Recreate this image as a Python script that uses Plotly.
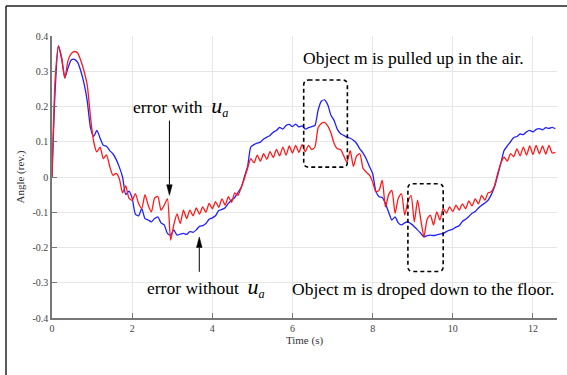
import numpy as np
import plotly.graph_objects as go

# time base (s), sampled every 0.08 s
time_s = np.round(np.arange(0, 158) * 0.08, 2)

# error without u_a (blue)
err_without = [
    0.000, 0.250, 0.372, 0.335, 0.282, 0.310, 0.332, 0.334, 0.325, 0.300,
    0.265, 0.215, 0.140, 0.115, 0.132, 0.110, 0.090, 0.087, 0.075, 0.066,
    0.050, 0.028, 0.000, -0.050, -0.040, -0.060, -0.105, -0.110, -0.090, -0.118,
    -0.122, -0.127, -0.118, -0.113, -0.130, -0.136, -0.160, -0.165, -0.150, -0.165,
    -0.162, -0.160, -0.163, -0.155, -0.157, -0.150, -0.140, -0.138, -0.132, -0.120,
    -0.116, -0.110, -0.095, -0.092, -0.087, -0.075, -0.066, -0.058, -0.044, -0.030,
    0.000, 0.030, 0.085, 0.092, 0.096, 0.099, 0.108, 0.113, 0.118, 0.127,
    0.132, 0.141, 0.136, 0.146, 0.149, 0.143, 0.150, 0.142, 0.145, 0.136,
    0.140, 0.143, 0.146, 0.190, 0.215, 0.219, 0.205, 0.175, 0.160, 0.135,
    0.123, 0.118, 0.113, 0.110, 0.104, 0.095, 0.080, 0.068, 0.052, 0.030,
    0.010, -0.040, -0.056, -0.058, -0.075, -0.100, -0.122, -0.113, -0.130, -0.136,
    -0.130, -0.127, -0.133, -0.141, -0.150, -0.160, -0.170, -0.166, -0.165, -0.166,
    -0.164, -0.162, -0.160, -0.155, -0.151, -0.148, -0.142, -0.138, -0.126, -0.120,
    -0.112, -0.103, -0.098, -0.088, -0.080, -0.074, -0.066, -0.050, -0.028, 0.005,
    0.040, 0.075, 0.088, 0.100, 0.112, 0.115, 0.122, 0.120, 0.128, 0.132,
    0.128, 0.135, 0.137, 0.134, 0.140, 0.138, 0.141, 0.137,
]

# error with u_a (red)
err_with = [
    0.000, 0.280, 0.372, 0.340, 0.280, 0.330, 0.350, 0.356, 0.352, 0.330,
    0.300, 0.260, 0.170, 0.100, 0.071, 0.085, 0.052, 0.063, 0.030, 0.005,
    0.010, -0.005, -0.045, -0.025, -0.060, -0.066, -0.047, -0.075, -0.089, -0.050,
    -0.080, -0.099, -0.060, -0.055, -0.094, -0.080, -0.062, -0.179, -0.135, -0.105,
    -0.132, -0.094, -0.118, -0.094, -0.110, -0.088, -0.105, -0.085, -0.100, -0.075,
    -0.090, -0.070, -0.086, -0.062, -0.080, -0.056, -0.072, -0.045, -0.052, -0.030,
    -0.005, 0.025, 0.052, 0.040, 0.062, 0.045, 0.066, 0.050, 0.072, 0.055,
    0.078, 0.060, 0.085, 0.062, 0.088, 0.068, 0.090, 0.070, 0.092, 0.072,
    0.090, 0.078, 0.085, 0.140, 0.152, 0.155, 0.145, 0.125, 0.095, 0.080,
    0.078, 0.060, 0.042, 0.075, 0.030, 0.060, 0.066, 0.025, 0.014, 0.005,
    -0.014, -0.042, -0.038, -0.009, -0.085, -0.050, -0.038, -0.103, -0.060, -0.047,
    -0.108, -0.070, -0.052, -0.127, -0.066, -0.120, -0.170, -0.120, -0.108, -0.136,
    -0.099, -0.122, -0.089, -0.103, -0.085, -0.098, -0.080, -0.094, -0.076, -0.090,
    -0.068, -0.082, -0.062, -0.076, -0.052, -0.066, -0.045, -0.042, -0.025, 0.010,
    0.040, 0.056, 0.045, 0.066, 0.058, 0.080, 0.060, 0.085, 0.062, 0.088,
    0.064, 0.090, 0.066, 0.088, 0.065, 0.090, 0.068, 0.070,
]

y_ticks = [-0.4, -0.3, -0.2, -0.1, 0, 0.1, 0.2, 0.3, 0.4]
y_tick_labels = ["-0.4", "-0.3", "-0.2", "-0.1", "0", "0.1", "0.2", "0.3", "0.4"]
x_ticks = [0, 2, 4, 6, 8, 10, 12]

# highlight boxes (t0, t1, v0, v1)
box_up = (6.28, 7.37, 0.028, 0.275)
box_down = (8.88, 9.76, -0.268, -0.019)

# arrows (t, v_tail, v_tip)
arrow_with = (2.93, 0.16, -0.052)
arrow_without = (3.675, -0.269, -0.17)

SERIF = "Liberation Serif"

fig = go.Figure()
fig.add_trace(go.Scatter(x=time_s, y=err_without, mode="lines",
                         line=dict(color="#2020ff", width=1.3, shape="spline", smoothing=0.6),
                         showlegend=False))
fig.add_trace(go.Scatter(x=time_s, y=err_with, mode="lines",
                         line=dict(color="#ff1a1a", width=1.3, shape="spline", smoothing=0.6),
                         showlegend=False))


def rounded_box(b, rx=0.12, ry=0.014):
    x0, x1, y0, y1 = b
    return (f"M {x0+rx},{y1} L {x1-rx},{y1} Q {x1},{y1} {x1},{y1-ry} "
            f"L {x1},{y0+ry} Q {x1},{y0} {x1-rx},{y0} L {x0+rx},{y0} "
            f"Q {x0},{y0} {x0},{y0+ry} L {x0},{y1-ry} Q {x0},{y1} {x0+rx},{y1} Z")


for b in (box_up, box_down):
    fig.add_shape(type="path", path=rounded_box(b), xref="x", yref="y",
                  line=dict(color="black", width=1.6, dash="4px,3px"))


def add_arrow(a, hw=0.07, hl=0.03):
    t, v0, v1 = a
    d = 1 if v1 > v0 else -1
    base = v1 - d * hl
    fig.add_shape(type="line", xref="x", yref="y", x0=t, x1=t, y0=v0, y1=base,
                  line=dict(color="black", width=1))
    fig.add_shape(type="path", xref="x", yref="y",
                  path=f"M {t-hw},{base} L {t+hw},{base} L {t},{v1} Z",
                  fillcolor="black", line=dict(color="black", width=0.5))


add_arrow(arrow_with)
add_arrow(arrow_without)

# outer frame (left and top edges)
fig.add_shape(type="line", xref="paper", yref="paper",
              x0=(6 - 52) / 505, x1=(6 - 52) / 505, y0=(318 - 6) / 282, y1=(318 - 380) / 282,
              line=dict(color="#222", width=1.5))
fig.add_shape(type="line", xref="paper", yref="paper",
              x0=(6 - 52) / 505, x1=(570 - 52) / 505, y0=(318 - 6) / 282, y1=(318 - 6) / 282,
              line=dict(color="#222", width=1.5))

ua = '<i><span style="font-size:22px">u</span><sub>a</sub></i>'
txt = dict(size=17.5, color="black", family=SERIF)

fig.add_annotation(x=9.02, y=0.338, text="Object m is pulled up in the air.",
                   showarrow=False, font=txt)
fig.add_annotation(x=3.2, y=0.2, text="error with  " + ua, showarrow=False, font=txt)
fig.add_annotation(x=3.85, y=-0.314, text="error without  " + ua, showarrow=False, font=txt)
fig.add_annotation(x=9.25, y=-0.317, text="Object m is droped down to the floor.",
                   showarrow=False, font=txt)

axis_common = dict(showgrid=True, gridcolor="#e6e6e6", gridwidth=1,
                   showline=True, linecolor="#777", linewidth=1.5,
                   ticks="inside", ticklen=5, tickcolor="#777", tickwidth=1.2,
                   tickfont=dict(size=10, color="#444", family=SERIF),
                   zeroline=False, automargin=False)

fig.update_xaxes(range=[0, 12.6], tickvals=x_ticks,
                 title=dict(text="Time (s)", font=dict(size=11, color="#333", family=SERIF),
                            standoff=4),
                 **axis_common)
fig.update_yaxes(range=[-0.4, 0.4], tickvals=y_ticks, ticktext=y_tick_labels,
                 title=dict(text="Angle (rev.)", font=dict(size=11, color="#333", family=SERIF),
                            standoff=6),
                 **axis_common)

fig.update_layout(width=567, height=375,
                  margin=dict(l=52, r=10, t=36, b=57),
                  paper_bgcolor="white", plot_bgcolor="white",
                  font=dict(family=SERIF))

fig.write_html("out.html", config={"displayModeBar": False},
               post_script="document.body.style.margin='0';document.body.style.overflow='hidden';")
